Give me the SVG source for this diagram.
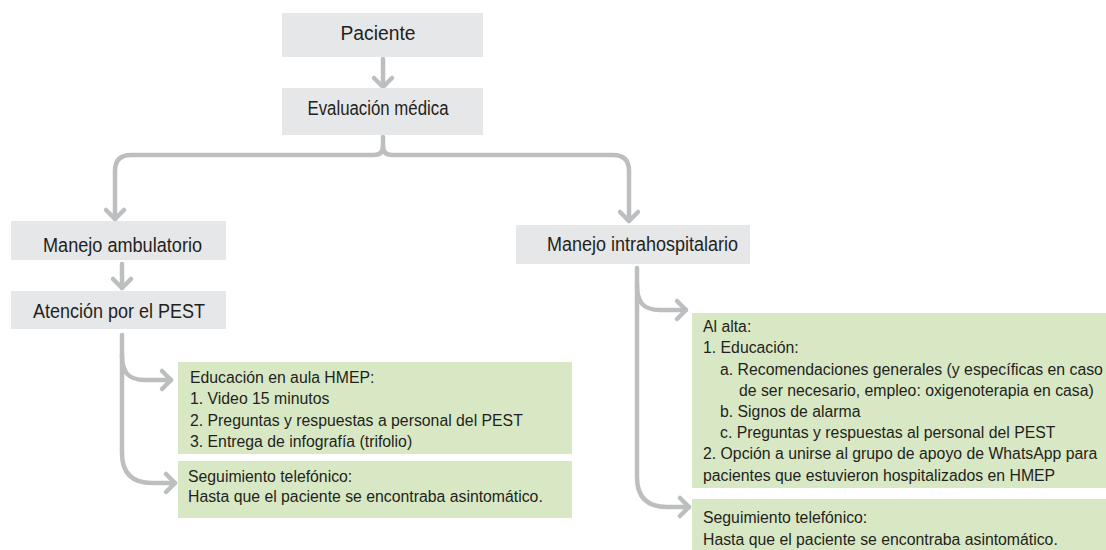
<svg xmlns="http://www.w3.org/2000/svg" width="1106" height="550" viewBox="0 0 1106 550">
<defs>
<style>
.g{fill:#e6e7e8}
.gr{fill:#d9e8c4}
.lbl{font-family:"Liberation Sans",Arial,sans-serif;font-size:20px;fill:#231f20;text-anchor:middle}
.t{font-family:"Liberation Sans",Arial,sans-serif;font-size:15.8px;fill:#231f20}
.c{fill:none;stroke:#bcbec0;stroke-width:4.5;stroke-linecap:round;stroke-linejoin:round}
</style>
<marker id="ah" markerUnits="userSpaceOnUse" viewBox="-14 -14 28 28" markerWidth="28" markerHeight="28" refX="0" refY="0" orient="auto" overflow="visible">
<path d="M-9,-9 L0,0 L-9,9" fill="none" stroke="#bcbec0" stroke-width="4.5" stroke-linecap="round" stroke-linejoin="round"/>
</marker>
</defs>
<rect width="1106" height="550" fill="#ffffff"/>
<g id="connectors">
<path class="c" d="M383 59 V87" marker-end="url(#ah)"/>
<path class="c" d="M383 137 V146 Q383 155 374 155 H131 Q115 155 115 171 V219" marker-end="url(#ah)"/>
<path class="c" d="M383 146 Q383 155 392 155 H613 Q629 155 629 171 V221" marker-end="url(#ah)"/>
<path class="c" d="M122 264 V288" marker-end="url(#ah)"/>
<path class="c" d="M122 335 V453 Q122 483 152 483 H175" marker-end="url(#ah)"/>
<path class="c" d="M122 355 C122 372 128 380 145 380 H171" marker-end="url(#ah)"/>
<path class="c" d="M637 268 V477 Q637 507 667 507 H689" marker-end="url(#ah)"/>
<path class="c" d="M637 285 C637 302 643 310 660 310 H686" marker-end="url(#ah)"/>
</g>
<g id="paciente">
<rect class="g" x="282" y="13" width="201" height="44"/>
<text class="lbl" x="378" y="40" textLength="75" lengthAdjust="spacingAndGlyphs">Paciente</text>
</g>
<g id="evaluacion">
<rect class="g" x="282" y="88" width="201" height="47"/>
<text class="lbl" x="378" y="115" textLength="141" lengthAdjust="spacingAndGlyphs">Evaluación médica</text>
</g>
<g id="ambulatorio">
<rect class="g" x="11" y="221" width="215" height="39"/>
<text class="lbl" x="122.5" y="252" textLength="159" lengthAdjust="spacingAndGlyphs">Manejo ambulatorio</text>
</g>
<g id="atencion">
<rect class="g" x="11" y="291" width="215" height="38"/>
<text class="lbl" x="119" y="318" textLength="172" lengthAdjust="spacingAndGlyphs">Atención por el PEST</text>
</g>
<g id="intrahospitalario">
<rect class="g" x="516" y="225" width="234" height="39"/>
<text class="lbl" x="642.5" y="251" textLength="191" lengthAdjust="spacingAndGlyphs">Manejo intrahospitalario</text>
</g>
<g id="educacion">
<rect class="gr" x="178" y="362" width="394" height="92"/>
<text class="t" x="190" y="383">Educación en aula HMEP:</text>
<text class="t" x="190" y="404">1. Video 15 minutos</text>
<text class="t" x="190" y="426">2. Preguntas y respuestas a personal del PEST</text>
<text class="t" x="190" y="447">3. Entrega de infografía (trifolio)</text>
</g>
<g id="seguimiento1">
<rect class="gr" x="178" y="461" width="394" height="57"/>
<text class="t" x="188" y="482">Seguimiento telefónico:</text>
<text class="t" x="188" y="502">Hasta que el paciente se encontraba asintomático.</text>
</g>
<g id="alta">
<rect class="gr" x="692" y="313" width="414" height="175"/>
<text class="t" x="703" y="332">Al alta:</text>
<text class="t" x="703" y="353">1. Educación:</text>
<text class="t" x="720" y="375">a. Recomendaciones generales (y específicas en caso</text>
<text class="t" x="739" y="396">de ser necesario, empleo: oxigenoterapia en casa)</text>
<text class="t" x="720" y="417">b. Signos de alarma</text>
<text class="t" x="720" y="438">c. Preguntas y respuestas al personal del PEST</text>
<text class="t" x="703" y="459">2. Opción a unirse al grupo de apoyo de WhatsApp para</text>
<text class="t" x="703" y="481">pacientes que estuvieron hospitalizados en HMEP</text>
</g>
<g id="seguimiento2">
<rect class="gr" x="692" y="499" width="414" height="51"/>
<text class="t" x="703" y="523">Seguimiento telefónico:</text>
<text class="t" x="703" y="545">Hasta que el paciente se encontraba asintomático.</text>
</g>
</svg>
